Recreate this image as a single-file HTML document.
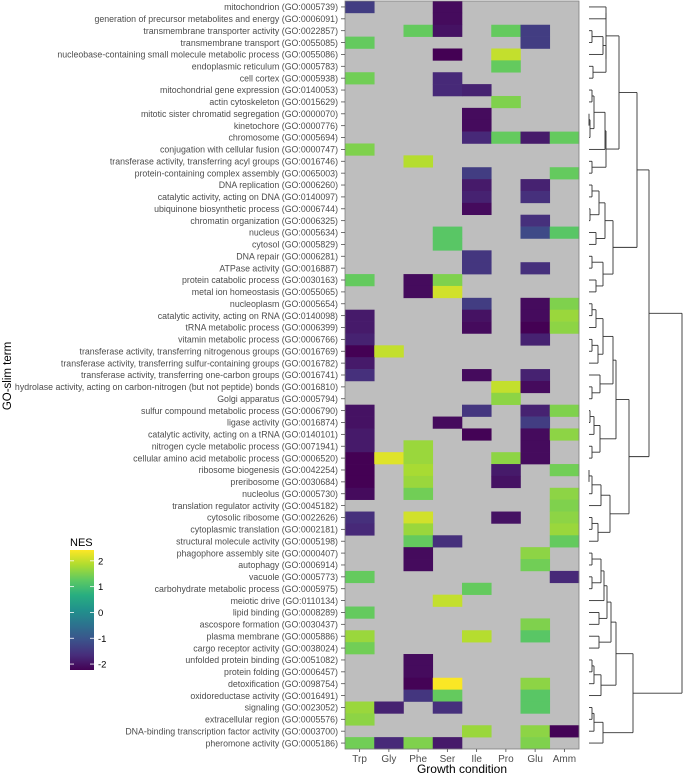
<!DOCTYPE html>
<html><head><meta charset="utf-8">
<style>
html,body{margin:0;padding:0;background:#fff;}
svg{display:block;font-family:"Liberation Sans",Arial,sans-serif;}
</style></head>
<body>
<svg id="chart" width="684" height="776" viewBox="0 0 684 776" xmlns="http://www.w3.org/2000/svg">
<defs>
<linearGradient id="vir" x1="0" y1="1" x2="0" y2="0">
<stop offset="0" stop-color="#440154"/><stop offset="0.125" stop-color="#472d7b"/><stop offset="0.25" stop-color="#3b528b"/><stop offset="0.375" stop-color="#2c728e"/><stop offset="0.5" stop-color="#21918c"/><stop offset="0.625" stop-color="#28ae80"/><stop offset="0.75" stop-color="#5ec962"/><stop offset="0.875" stop-color="#addc30"/><stop offset="1" stop-color="#fde725"/>
</linearGradient>
</defs>
<g id="cells"></g>
<rect x="345" y="1" width="234" height="748" fill="none" stroke="#7f7f7f" stroke-width="0.8"/>
<g id="ylabels"></g>
<g id="xlabels"></g>
<g id="dendro"></g>
<text x="0" y="0" transform="translate(11,376) rotate(-90)" text-anchor="middle" font-size="11.5" fill="#000">GO-slim term</text>
<text x="462" y="773" text-anchor="middle" font-size="12" fill="#000">Growth condition</text>
<g>
<text x="70" y="546" font-size="11" fill="#000">NES</text>
<rect x="70" y="550" width="24" height="120" fill="url(#vir)"/>
<g id="legticks"></g>
</g>
</svg>
<script>
const columns = ["Trp","Gly","Phe","Ser","Ile","Pro","Glu","Amm"];
const terms = [
"mitochondrion (GO:0005739)","generation of precursor metabolites and energy (GO:0006091)","transmembrane transporter activity (GO:0022857)","transmembrane transport (GO:0055085)","nucleobase-containing small molecule metabolic process (GO:0055086)","endoplasmic reticulum (GO:0005783)","cell cortex (GO:0005938)","mitochondrial gene expression (GO:0140053)","actin cytoskeleton (GO:0015629)","mitotic sister chromatid segregation (GO:0000070)","kinetochore (GO:0000776)","chromosome (GO:0005694)","conjugation with cellular fusion (GO:0000747)","transferase activity, transferring acyl groups (GO:0016746)","protein-containing complex assembly (GO:0065003)","DNA replication (GO:0006260)","catalytic activity, acting on DNA (GO:0140097)","ubiquinone biosynthetic process (GO:0006744)","chromatin organization (GO:0006325)","nucleus (GO:0005634)","cytosol (GO:0005829)","DNA repair (GO:0006281)","ATPase activity (GO:0016887)","protein catabolic process (GO:0030163)","metal ion homeostasis (GO:0055065)","nucleoplasm (GO:0005654)","catalytic activity, acting on RNA (GO:0140098)","tRNA metabolic process (GO:0006399)","vitamin metabolic process (GO:0006766)","transferase activity, transferring nitrogenous groups (GO:0016769)","transferase activity, transferring sulfur-containing groups (GO:0016782)","transferase activity, transferring one-carbon groups (GO:0016741)","hydrolase activity, acting on carbon-nitrogen (but not peptide) bonds (GO:0016810)","Golgi apparatus (GO:0005794)","sulfur compound metabolic process (GO:0006790)","ligase activity (GO:0016874)","catalytic activity, acting on a tRNA (GO:0140101)","nitrogen cycle metabolic process (GO:0071941)","cellular amino acid metabolic process (GO:0006520)","ribosome biogenesis (GO:0042254)","preribosome (GO:0030684)","nucleolus (GO:0005730)","translation regulator activity (GO:0045182)","cytosolic ribosome (GO:0022626)","cytoplasmic translation (GO:0002181)","structural molecule activity (GO:0005198)","phagophore assembly site (GO:0000407)","autophagy (GO:0006914)","vacuole (GO:0005773)","carbohydrate metabolic process (GO:0005975)","meiotic drive (GO:0110134)","lipid binding (GO:0008289)","ascospore formation (GO:0030437)","plasma membrane (GO:0005886)","cargo receptor activity (GO:0038024)","unfolded protein binding (GO:0051082)","protein folding (GO:0006457)","detoxification (GO:0098754)","oxidoreductase activity (GO:0016491)","signaling (GO:0023052)","extracellular region (GO:0005576)","DNA-binding transcription factor activity (GO:0003700)","pheromone activity (GO:0005186)"];
const N = null;
const nes = [
[-1.4,N,N,-2.1,N,N,N,N],
[N,N,N,-2.1,N,N,N,N],
[N,N,1.3,-2.0,N,1.3,-1.4,N],
[1.3,N,N,N,N,N,-1.4,N],
[N,N,N,-2.3,N,2.0,N,N],
[N,N,N,N,N,1.3,N,N],
[1.4,N,N,-1.7,N,N,N,N],
[N,N,N,-1.7,-1.8,N,N,N],
[N,N,N,N,N,1.5,N,N],
[N,N,N,N,-2.1,N,N,N],
[N,N,N,N,-2.1,N,N,N],
[N,N,N,N,-1.7,1.3,-1.9,1.3],
[1.5,N,N,N,N,N,N,N],
[N,N,1.9,N,N,N,N,N],
[N,N,N,N,-1.4,N,N,1.3],
[N,N,N,N,-1.9,N,-1.8,N],
[N,N,N,N,-1.8,N,-1.6,N],
[N,N,N,N,-2.1,N,N,N],
[N,N,N,N,N,N,-1.6,N],
[N,N,N,1.2,N,N,-1.2,1.2],
[N,N,N,1.2,N,N,N,N],
[N,N,N,N,-1.5,N,N,N],
[N,N,N,N,-1.5,N,-1.6,N],
[1.3,N,-2.1,1.5,N,N,N,N],
[N,N,-2.1,2.1,N,N,N,N],
[N,N,N,N,-1.4,N,-2.1,1.5],
[-1.9,N,N,N,-2.0,N,-2.1,1.7],
[-1.9,N,N,N,-2.1,N,-2.3,1.6],
[-1.8,N,N,N,N,N,-1.8,N],
[-2.3,2.0,N,N,N,N,N,N],
[-1.9,N,N,N,N,N,N,N],
[-1.6,N,N,N,-2.1,N,-1.8,N],
[N,N,N,N,N,2.0,-2.1,N],
[N,N,N,N,N,1.6,N,N],
[-2.0,N,N,N,-1.5,N,-1.8,1.5],
[-2.0,N,N,-2.1,N,N,-1.4,N],
[-1.9,N,N,N,-2.2,N,-2.1,1.6],
[-1.9,N,1.7,N,N,N,-2.1,N],
[-2.4,2.2,1.7,N,N,1.6,-2.1,N],
[-2.3,N,1.8,N,N,-1.9,N,1.4],
[-2.3,N,1.7,N,N,-2.0,N,N],
[-2.1,N,1.4,N,N,N,N,1.6],
[N,N,N,N,N,N,N,1.5],
[-1.6,N,2.1,N,N,-2.0,N,1.6],
[-1.7,N,1.7,N,N,N,N,1.7],
[N,N,1.3,-1.6,N,N,N,1.3],
[N,N,-2.1,N,N,N,1.6,N],
[N,N,-2.1,N,N,N,1.4,N],
[1.3,N,N,N,N,N,N,-1.7],
[N,N,N,N,1.3,N,N,N],
[N,N,N,2.0,N,N,N,N],
[1.3,N,N,N,N,N,N,N],
[N,N,N,N,N,N,1.5,N],
[1.7,N,N,N,1.9,N,1.2,N],
[1.4,N,N,N,N,N,N,N],
[N,N,-2.1,N,N,N,N,N],
[N,N,-2.1,N,N,N,N,N],
[N,N,-2.2,2.4,N,N,1.6,N],
[N,N,-1.5,1.3,N,N,1.2,N],
[1.7,-1.8,N,-1.6,N,N,1.2,N],
[1.6,N,N,N,N,N,N,N],
[N,N,N,N,1.7,N,1.6,-2.2],
[1.4,-1.7,1.5,-1.9,N,N,1.5,N]];
const legendTicks = [2,1,0,-1,-2];
const nesMin = -2.23, nesMax = 2.42;
const tree = [93,
 [60,
  [48,
   [30,[17,[17,0,1],[17,[14,[3,2,3],4],[4,5,6]]],
       [17,[16,[5,[3,7,8],[1,[0,9,10],11]],12],[3,13,14]]],
   [24,[16,[10,[3,15,16],[1,17,18]],[7,19,20]],[14,[3,21,22],[7,23,24]]]],
  [40,
   [27,[24,[14,[7,[3,25,26],27],[9,[3,28,29],30]],[11,31,[3,32,33]]],
       [11,[5,[1,34,35],36],[3,37,38]]],
   [21,[12,[3,[0,39,40],41],42],[9,[3,43,44],45]]]],
 [44,
  [27,[22,[18,[15,[12,[3,46,47],[3,48,49]],50],[10,51,52]],[10,53,54]],
      [12,[5,[3,55,56],57],58]],
  [14,[5,[3,59,60],61],62]]];

const NS="http://www.w3.org/2000/svg";
const px0=345, pw=234, py0=1, ph=748;
const cw=pw/columns.length, rh=ph/terms.length;
const xCol=i=>px0+i*cw;
const yRow=i=>py0+i*rh;
const dx=h=>589+h;
const vir=["#440154","#472d7b","#3b528b","#2c728e","#21918c","#28ae80","#5ec962","#addc30","#fde725"];
function hex(c){return [1,3,5].map(k=>parseInt(c.substr(k,2),16));}
function color(v){
  let t=(v-nesMin)/(nesMax-nesMin); t=Math.max(0,Math.min(1,t));
  const p=t*(vir.length-1), i=Math.min(vir.length-2,Math.floor(p)), f=p-i;
  const a=hex(vir[i]), b=hex(vir[i+1]);
  return "rgb("+a.map((x,k)=>Math.round(x+(b[k]-x)*f)).join(",")+")";
}
function mk(tag,attrs,parent){const e=document.createElementNS(NS,tag);for(const k in attrs)e.setAttribute(k,attrs[k]);parent.appendChild(e);return e;}
const cells=document.getElementById("cells");
mk("rect",{x:px0,y:py0,width:pw,height:ph,fill:"#bebebe"},cells);
nes.forEach((row,r)=>row.forEach((v,c)=>{
  if(v===null)return;
  const e=mk("rect",{x:xCol(c),y:yRow(r),width:cw+0.3,height:rh+0.3,fill:color(v)},cells);
  
  
}));
const yl=document.getElementById("ylabels");
terms.forEach((t,i)=>{
  const y=yRow(i)+rh/2;
  const tx=mk("text",{x:338,y:y+3.2,"text-anchor":"end","font-size":"8.8","fill":"#4d4d4d"},yl);
  tx.textContent=t;
  
  
  mk("line",{x1:341,x2:345,y1:y,y2:y,stroke:"#4d4d4d","stroke-width":"0.8"},yl);
});
const xl=document.getElementById("xlabels");
columns.forEach((c,i)=>{
  const x=xCol(i)+cw/2;
  mk("line",{x1:x,x2:x,y1:749,y2:752,stroke:"#4d4d4d","stroke-width":"0.8"},xl);
  const tx=mk("text",{x:x,y:762,"text-anchor":"middle","font-size":"10","fill":"#4d4d4d"},xl);
  tx.textContent=c;
  
  
});
const lt=document.getElementById("legticks");
legendTicks.forEach(v=>{
  const y=550+(nesMax-v)/(nesMax-nesMin)*120;
  mk("line",{x1:70,x2:74,y1:y,y2:y,stroke:"#fff","stroke-width":"0.8"},lt);
  mk("line",{x1:90,x2:94,y1:y,y2:y,stroke:"#fff","stroke-width":"0.8"},lt);
  const tx=mk("text",{x:98,y:y+3.5,"font-size":"9.5","fill":"#000"},lt);
  tx.textContent=v;
  
  
});
const dg=document.getElementById("dendro");
function draw(n){
  if(typeof n==="number")return {x:dx(0), y:yRow(n)+rh/2};
  const a=draw(n[1]), b=draw(n[2]), X=dx(n[0]);
  const ln=(x1,y1,x2,y2)=>mk("line",{x1,y1,x2,y2,stroke:"#333","stroke-width":"0.9"},dg);
  ln(a.x,a.y,X,a.y); ln(b.x,b.y,X,b.y); ln(X,a.y,X,b.y);
  return {x:X,y:(a.y+b.y)/2};
}
const root=draw(tree);
</script>
</body></html>
